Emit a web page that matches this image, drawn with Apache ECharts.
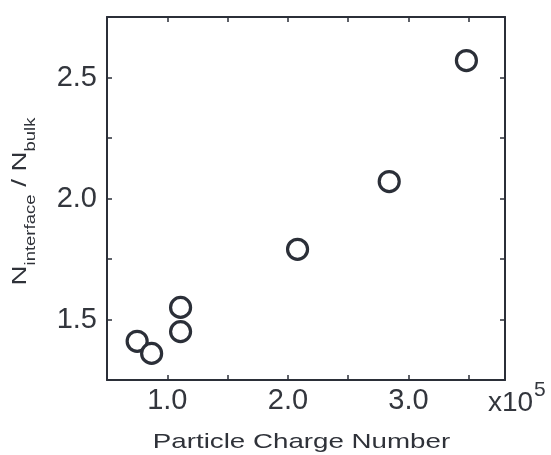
<!DOCTYPE html>
<html>
<head>
<meta charset="utf-8">
<script src="https://cdn.jsdelivr.net/npm/echarts@6/dist/echarts.min.js"></script>
<style>
  html, body { margin: 0; padding: 0; background: #fff; }
  #chart { width: 551px; height: 455px; }
</style>
</head>
<body>
<div id="chart"></div>
<script>
// Particle charge number (in units of 1e5) and interface/bulk number density ratio
const chargeNumber = [0.75, 0.87, 1.11, 1.11, 2.08, 2.84, 3.48];
const densityRatio = [1.41, 1.36, 1.55, 1.45, 1.79, 2.07, 2.57];

// Labelled ticks on each axis
const xTickLabels = ['1.0', '2.0', '3.0'];
const yTickLabels = ['1.5', '2.0', '2.5'];

const ink = '#2b2f38';
const labelFont = 'Liberation Sans, Arial, sans-serif';

function frameAxis(position, min, max, interval, labels, showLabel) {
  return {
    type: 'value',
    position: position,
    min: min,
    max: max,
    interval: interval,
    axisLine: { show: true, onZero: false, lineStyle: { color: ink, width: 2 } },
    axisTick: { show: true, inside: true, length: 5, lineStyle: { color: ink, width: 1.5 } },
    axisLabel: {
      show: showLabel,
      margin: position === 'bottom' ? 6 : 10,
      fontSize: 29,
      fontFamily: labelFont,
      color: '#33363d',
      formatter: function (v) {
        const s = v.toFixed(1);
        return labels.indexOf(s) >= 0 ? s : '';
      }
    },
    splitLine: { show: false }
  };
}

const chart = echarts.init(document.getElementById('chart'), null, { renderer: 'canvas' });

chart.setOption({
  backgroundColor: '#fff',
  animation: false,
  grid: { left: 107, right: 46, top: 17, bottom: 75 },
  xAxis: [
    frameAxis('bottom', 0.5, 3.8, 0.5, xTickLabels, true),
    frameAxis('top', 0.5, 3.8, 0.5, xTickLabels, false)
  ],
  yAxis: [
    frameAxis('left', 1.25, 2.75, 0.25, yTickLabels, true),
    frameAxis('right', 1.25, 2.75, 0.25, yTickLabels, false)
  ],
  series: [{
    type: 'scatter',
    xAxisIndex: 0,
    yAxisIndex: 0,
    symbol: 'circle',
    symbolSize: 20,
    itemStyle: { color: '#ffffff', borderColor: ink, borderWidth: 3.2, opacity: 1 },
    emphasis: { disabled: true },
    data: chargeNumber.map(function (x, i) { return [x, densityRatio[i]]; })
  }],
  graphic: [
    {
      type: 'text',
      x: 301.5,
      y: 442.5,
      scaleX: 1.32,
      style: {
        text: 'Particle Charge Number',
        x: 0, y: 0,
        align: 'center',
        verticalAlign: 'middle',
        fontSize: 21,
        fontFamily: labelFont,
        fill: '#2f3239'
      }
    },
    {
      type: 'text',
      x: 24,
      y: 201.5,
      rotation: Math.PI / 2,
      scaleX: 1.32,
      style: {
        text: '{big|N}{sub|interface}{big| / N}{sub|bulk}',
        x: 0, y: 0,
        align: 'center',
        verticalAlign: 'middle',
        fill: '#2f3239',
        rich: {
          big: { fontSize: 21, fontFamily: labelFont, fill: '#2f3239', verticalAlign: 'bottom', padding: [0, 0, 8, 0] },
          sub: { fontSize: 14, fontFamily: labelFont, fill: '#2f3239', verticalAlign: 'bottom' }
        }
      }
    },
    {
      type: 'text',
      x: 488,
      y: 403,
      style: {
        text: 'x10',
        align: 'left',
        verticalAlign: 'middle',
        fontSize: 28,
        fontFamily: labelFont,
        fill: '#33363d'
      }
    },
    {
      type: 'text',
      x: 534,
      y: 390.5,
      style: {
        text: '5',
        align: 'left',
        verticalAlign: 'middle',
        fontSize: 21,
        fontFamily: labelFont,
        fill: '#33363d'
      }
    }
  ]
});
</script>
</body>
</html>
